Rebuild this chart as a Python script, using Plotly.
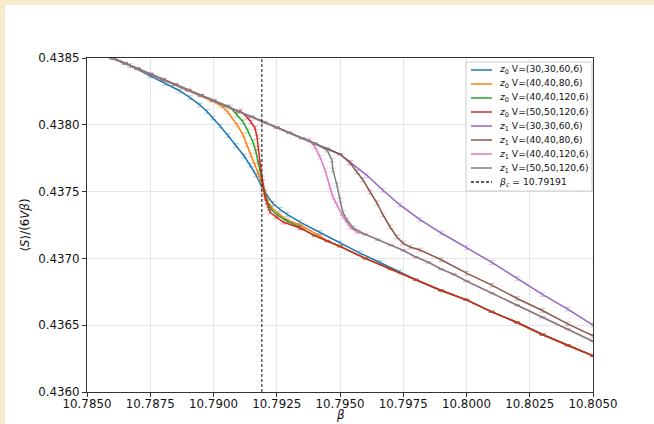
import plotly.graph_objects as go

# ---------------- data ----------------
beta_c = 10.79191

# common upper branch (all series before they drop)
upper_b = [10.7855, 10.7860, 10.7865, 10.7870, 10.7875, 10.7880, 10.7885, 10.7890, 10.7895,
           10.7900, 10.7905, 10.7910, 10.7915, 10.7920, 10.7925, 10.7930, 10.7935, 10.7940,
           10.7945, 10.7950, 10.7955]
upper_v = [0.43854, 0.43850, 0.43846, 0.43842, 0.43838, 0.43834, 0.43830, 0.43826, 0.43822,
           0.43818, 0.43814, 0.43810, 0.43806, 0.43802, 0.43798, 0.43794, 0.43790, 0.43786,
           0.43782, 0.43778, 0.43774]

# lower branch of z0 (after transition)
low0_b = [10.7930, 10.7935, 10.7940, 10.7945, 10.7950, 10.7960, 10.7970, 10.7980, 10.7990,
          10.8000, 10.8010, 10.8020, 10.8030, 10.8040, 10.8050]
low0_v = [0.43726, 0.43722, 0.43717, 0.43713, 0.43709, 0.43700, 0.43692, 0.43684, 0.43676,
          0.43669, 0.43660, 0.43652, 0.43643, 0.43635, 0.43627]

# lower branch of z1 (after transition, larger volumes)
low1_b = [10.7960, 10.7965, 10.7970, 10.7975, 10.7980, 10.7985, 10.7990, 10.7995, 10.8000,
          10.8010, 10.8020, 10.8030, 10.8040, 10.8050]
low1_v = [0.43718, 0.43714, 0.43710, 0.43706, 0.43701, 0.43697, 0.43692, 0.43688, 0.43683,
          0.43674, 0.43665, 0.43656, 0.43647, 0.43638]

# z0 V=(30,30,60,6)
z0_a_b = [10.7855, 10.78603, 10.78670, 10.78749, 10.78808, 10.78868, 10.78907, 10.78947,
          10.78974, 10.78998, 10.79026, 10.79057, 10.79089, 10.79121, 10.79144, 10.79168,
          10.79192, 10.79215, 10.79235, 10.79263, 10.79291, 10.79342, 10.79421, 10.79500,
          10.79579, 10.79658, 10.79737]
z0_a_v = [0.438540, 0.438500, 0.438443, 0.438368, 0.438310, 0.438253, 0.438204, 0.438148,
          0.438100, 0.438051, 0.437991, 0.437920, 0.437845, 0.437766, 0.437699, 0.437624,
          0.437534, 0.437460, 0.437411, 0.437366, 0.437329, 0.437272, 0.437194, 0.437115,
          0.437040, 0.436969, 0.436898]
# z0 V=(40,40,80,6)
z0_b_b = [10.78986, 10.79026, 10.79057, 10.79093, 10.79117, 10.79132, 10.79148, 10.79164,
          10.79176, 10.79184, 10.79196, 10.79204, 10.79215, 10.79231, 10.79263, 10.79291,
          10.79342, 10.79421]
z0_b_v = [0.438186, 0.438148, 0.438096, 0.437999, 0.437924, 0.437849, 0.437774, 0.437699,
          0.437647, 0.437602, 0.437527, 0.437475, 0.437422, 0.437377, 0.437325, 0.437287,
          0.437250, 0.437168]
# z0 V=(40,40,120,6)
z0_c_b = [10.79065, 10.79093, 10.79117, 10.79136, 10.79156, 10.79168, 10.79176, 10.79184,
          10.79192, 10.79200, 10.79211, 10.79227, 10.79251, 10.79291, 10.79342]
z0_c_v = [0.438133, 0.438073, 0.438021, 0.437954, 0.437871, 0.437796, 0.437722, 0.437647,
          0.437572, 0.437497, 0.437422, 0.437370, 0.437325, 0.437280, 0.437235]
# z0 V=(50,50,120,6)
z0_d_b = [10.79105, 10.79132, 10.79148, 10.79164, 10.79172, 10.79176, 10.79184, 10.79192,
          10.79200, 10.79204, 10.79215, 10.79223, 10.79247, 10.79275, 10.79342]
z0_d_v = [0.438103, 0.438058, 0.438021, 0.437976, 0.437909, 0.437826, 0.437714, 0.437602,
          0.437497, 0.437452, 0.437392, 0.437347, 0.437310, 0.437272, 0.437228]

# z1 V=(30,30,60,6)
z1_a_b = [10.79540, 10.79607, 10.79670, 10.79737, 10.79816, 10.7990, 10.8000, 10.8010,
          10.8020, 10.8030, 10.8040, 10.8050]
z1_a_v = [0.43772, 0.43762, 0.43751, 0.43740, 0.43729, 0.43719, 0.43708, 0.43697,
          0.43685, 0.43673, 0.43662, 0.43650]
# z1 V=(40,40,80,6)
z1_b_b = [10.79540, 10.79567, 10.79591, 10.79619, 10.79646, 10.79670, 10.79698, 10.79725,
          10.79749, 10.79777, 10.79816, 10.7990, 10.8000, 10.8010, 10.8020, 10.8030,
          10.8040, 10.8050]
z1_b_v = [0.437714, 0.437647, 0.437587, 0.437497, 0.437415, 0.437325, 0.437235, 0.437160,
          0.437115, 0.437085, 0.437063, 0.43699, 0.43689, 0.43680, 0.43670, 0.43661,
          0.43651, 0.43642]
# z1 V=(40,40,120,6)
z1_c_b = [10.79381, 10.79401, 10.79421, 10.79441, 10.79460, 10.79472, 10.79488, 10.79512,
          10.79540, 10.79567]
z1_c_v = [0.437886, 0.437834, 0.437759, 0.437662, 0.437534, 0.437460, 0.437400, 0.437310,
          0.437235, 0.437198]
# z1 V=(50,50,120,6)
z1_d_b = [10.79449, 10.79468, 10.79472, 10.79488, 10.79500, 10.79512, 10.79528, 10.79552]
z1_d_v = [0.437811, 0.437737, 0.437662, 0.437549, 0.437437, 0.437340, 0.437287, 0.437228]

labels = ["<i>z</i><sub>0</sub> V=(30,30,60,6)", "<i>z</i><sub>0</sub> V=(40,40,80,6)",
          "<i>z</i><sub>0</sub> V=(40,40,120,6)", "<i>z</i><sub>0</sub> V=(50,50,120,6)",
          "<i>z</i><sub>1</sub> V=(30,30,60,6)", "<i>z</i><sub>1</sub> V=(40,40,80,6)",
          "<i>z</i><sub>1</sub> V=(40,40,120,6)", "<i>z</i><sub>1</sub> V=(50,50,120,6)"]
bc_label = "<i>β</i><sub><i>c</i></sub> = 10.79191"
colors = ["#1f77b4", "#ff7f0e", "#2ca02c", "#d62728", "#9467bd", "#8c564b", "#e377c2", "#7f7f7f"]
err_colors = ["rgba(31,119,180,0.35)", "rgba(255,127,14,0.35)", "rgba(44,160,44,0.35)",
              "rgba(214,39,40,0.35)", "rgba(148,103,189,0.35)", "rgba(140,86,75,0.35)",
              "rgba(227,119,194,0.35)", "rgba(127,127,127,0.35)"]
err_branch = 0.000005
err_trans = 0.000014


def compose(tb, tv, lb, lv, use_upper=True):
    xs, ys, es = [], [], []
    if use_upper:
        for b, v in zip(upper_b, upper_v):
            if b < tb[0] - 1e-9:
                xs.append(b); ys.append(v); es.append(err_branch)
    for b, v in zip(tb, tv):
        xs.append(b); ys.append(v); es.append(err_trans)
    for b, v in zip(lb, lv):
        if b > tb[-1] + 1e-9:
            xs.append(b); ys.append(v); es.append(err_branch)
    return xs, ys, es


series = [
    compose(z0_a_b, z0_a_v, low0_b, low0_v, use_upper=False),
    compose(z0_b_b, z0_b_v, low0_b, low0_v),
    compose(z0_c_b, z0_c_v, low0_b, low0_v),
    compose(z0_d_b, z0_d_v, low0_b, low0_v),
    compose(z1_a_b, z1_a_v, [], []),
    compose(z1_b_b, z1_b_v, [], []),
    compose(z1_c_b, z1_c_v, low1_b, low1_v),
    compose(z1_d_b, z1_d_v, low1_b, low1_v),
]

fig = go.Figure()
for (xs, ys, es), name, col, ecol in zip(series, labels, colors, err_colors):
    fig.add_trace(go.Scatter(
        x=xs, y=ys, mode="lines", name=name, showlegend=False,
        line=dict(color=col, width=1.5),
        error_y=dict(type="data", array=es, color=ecol, thickness=1, width=3),
    ))

fig.add_trace(go.Scatter(
    x=[beta_c, beta_c], y=[0.4360, 0.4385], mode="lines", name=bc_label, showlegend=False,
    line=dict(color="#333333", width=1.2, dash="3px,2px"),
))

FONT = "DejaVu Sans"
axis_common = dict(
    showline=True, linecolor="#333333", linewidth=1.2, mirror=True,
    ticks="outside", ticklen=4, tickwidth=1, tickcolor="#333333",
    showgrid=True, gridcolor="#e6e6e6", gridwidth=1, zeroline=False,
    tickfont=dict(family=FONT, size=11.8, color="#111111"),
)

# plot-area geometry in pixels (used to place the hand-drawn legend)
PL, PR, PT, PB = 87, 593, 58, 392


def px_x(p):
    return (p - PL) / (PR - PL)


def px_y(p):
    return (PB - p) / (PB - PT)


shapes = [
    dict(type="rect", xref="paper", yref="paper", x0=-0.2, x1=1.2,
         y0=px_y(5), y1=1.25, fillcolor="#F9EACB", line=dict(width=0), layer="above"),
    dict(type="rect", xref="paper", yref="paper", x0=-0.2, x1=px_x(5),
         y0=-0.2, y1=1.25, fillcolor="#F9EACB", line=dict(width=0), layer="above"),
    # legend box
    dict(type="rect", xref="paper", yref="paper", x0=px_x(466), x1=px_x(592),
         y0=px_y(191), y1=px_y(62), fillcolor="rgba(255,255,255,0.85)",
         line=dict(color="#cccccc", width=1), layer="above"),
]
annotations = []
leg_labels = labels + [bc_label]
leg_colors = colors + ["#222222"]
for i, (lab, col) in enumerate(zip(leg_labels, leg_colors)):
    yy = 70 + 14 * i
    shapes.append(dict(type="line", xref="paper", yref="paper",
                       x0=px_x(471), x1=px_x(492), y0=px_y(yy), y1=px_y(yy),
                       line=dict(color=col, width=1.5,
                                 dash="3px,2px" if i == len(leg_labels) - 1 else "solid"),
                       layer="above"))
    annotations.append(dict(xref="paper", yref="paper", x=px_x(497), y=px_y(yy),
                            xanchor="left", yanchor="middle", showarrow=False,
                            text=lab, font=dict(family=FONT, size=9.2, color="#111111")))

# x-axis title placed just below the tick labels
annotations.append(dict(xref="paper", yref="paper", x=0.5, y=px_y(424),
                        xanchor="center", yanchor="bottom", showarrow=False,
                        text="<i>β</i>", font=dict(family=FONT, size=11.8, color="#111111")))

fig.update_layout(
    width=654, height=424,
    margin=dict(l=PL, r=654 - PR, t=PT, b=424 - PB),
    paper_bgcolor="white", plot_bgcolor="white",
    font=dict(family=FONT, color="#111111"),
    showlegend=False,
    xaxis=dict(range=[10.785, 10.805], dtick=0.0025, tick0=10.785, tickformat=".4f",
               ticklabelstandoff=-3, automargin=False, **axis_common),
    yaxis=dict(range=[0.4360, 0.4385], dtick=0.0005, tick0=0.4360, tickformat=".4f",
               title=dict(text="⟨<i>S</i>⟩/(6<i>Vβ</i>)", font=dict(family=FONT, size=11.8), standoff=6),
               automargin=False, **axis_common),
    shapes=shapes,
    annotations=annotations,
)

fig.write_html("out.html")
